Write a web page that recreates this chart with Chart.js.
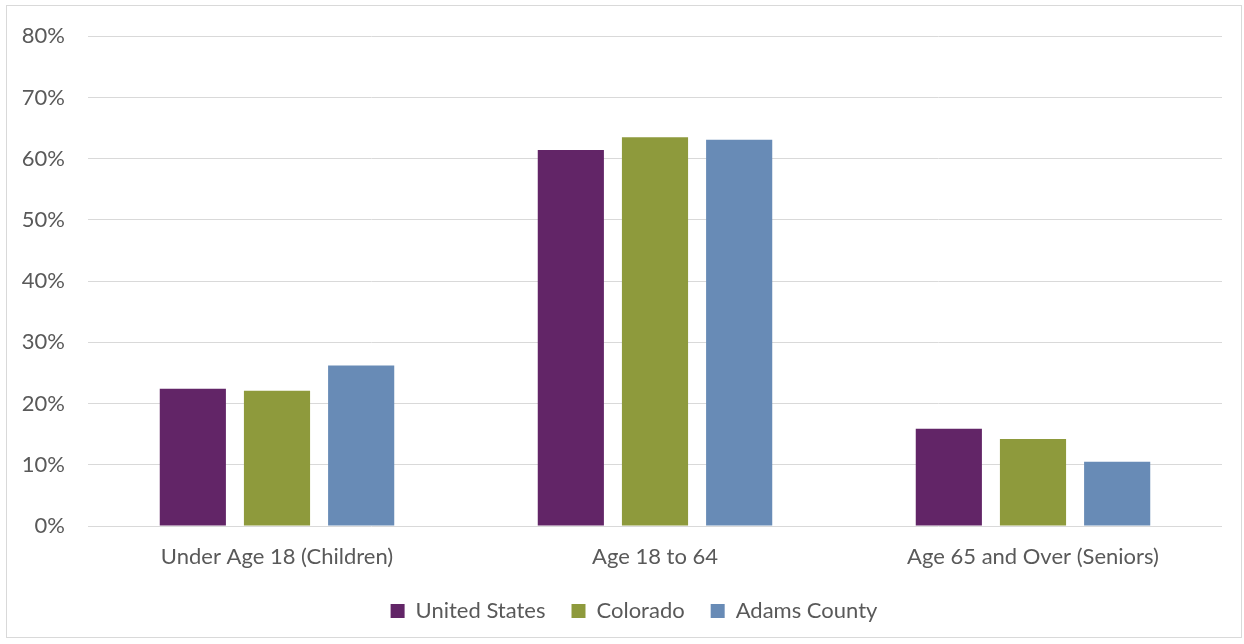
<!DOCTYPE html>
<html>
<head>
<meta charset="utf-8">
<title>Population by Age Group</title>
<script src="https://cdn.jsdelivr.net/npm/chart.js@4/dist/chart.umd.min.js"></script>
<style>
  html, body { margin: 0; padding: 0; background: #fff; }
  #frame {
    position: absolute; left: 6px; top: 5px;
    width: 1236px; height: 633px;
    border: 1px solid #d9d9d9; box-sizing: border-box;
  }
  #wrap { position: absolute; left: 0; top: 0; width: 1244px; height: 644px; }
</style>
</head>
<body>
<div id="frame"></div>
<div id="wrap"><canvas id="ageChart"></canvas></div>
<script>
const AGE_GROUPS = ["Under Age 18 (Children)", "Age 18 to 64", "Age 65 and Over (Seniors)"];
const SERIES_NAMES = ["United States", "Colorado", "Adams County"];
const UNITED_STATES = [22.4, 61.4, 15.9];
const COLORADO = [22.1, 63.5, 14.2];
const ADAMS_COUNTY = [26.2, 63.1, 10.5];
const Y_TICKS = [0, 10, 20, 30, 40, 50, 60, 70, 80];

const COLORS = ["#622567", "#8e9a3c", "#688bb6"];
const TEXT = "#595959";
const FONT = "Lato, 'Open Sans', sans-serif";
const FONT_SIZE = 22;
const LEGEND_SHIFT = 23;

const seriesValues = [UNITED_STATES, COLORADO, ADAMS_COUNTY];

// nudge the legend so it sits centred under the plot area rather than the canvas
const legendShift = {
  id: "legendShift",
  afterLayout(chart) {
    if (!chart.legend) return;
    chart.legend.left += LEGEND_SHIFT;
    chart.legend.right += LEGEND_SHIFT;
  }
};

document.addEventListener("DOMContentLoaded", () => {
  const ctx = document.getElementById("ageChart").getContext("2d");

  new Chart(ctx, {
    type: "bar",
    data: {
      labels: AGE_GROUPS,
      datasets: SERIES_NAMES.map((name, i) => ({
        label: name,
        data: seriesValues[i],
        backgroundColor: COLORS[i],
        borderWidth: 0,
        categoryPercentage: 0.668,
        barPercentage: 0.786
      }))
    },
    options: {
      responsive: true,
      maintainAspectRatio: false,
      animation: false,
      layout: { padding: { left: 0, top: 35, right: 22, bottom: 12 } },
      scales: {
        x: {
          grid: { display: false, drawTicks: false },
          border: { display: false },
          ticks: { color: TEXT, padding: 18, font: { family: FONT, size: FONT_SIZE } },
          afterFit: (scale) => { scale.height = 48; }
        },
        y: {
          min: 0,
          max: 80,
          afterBuildTicks: (scale) => { scale.ticks = Y_TICKS.map(v => ({ value: v })); },
          grid: { color: "#d9d9d9", lineWidth: 1, drawTicks: false },
          border: { display: false },
          ticks: {
            color: TEXT,
            padding: 23,
            font: { family: FONT, size: FONT_SIZE },
            callback: (v) => v + "%"
          },
          afterFit: (scale) => { scale.width = 88; }
        }
      },
      plugins: {
        legend: {
          position: "bottom",
          labels: {
            color: TEXT,
            boxWidth: 14,
            boxHeight: 14,
            padding: 26,
            font: { family: FONT, size: FONT_SIZE }
          }
        },
        tooltip: { enabled: false }
      }
    },
    plugins: [legendShift]
  });
});
</script>
</body>
</html>
